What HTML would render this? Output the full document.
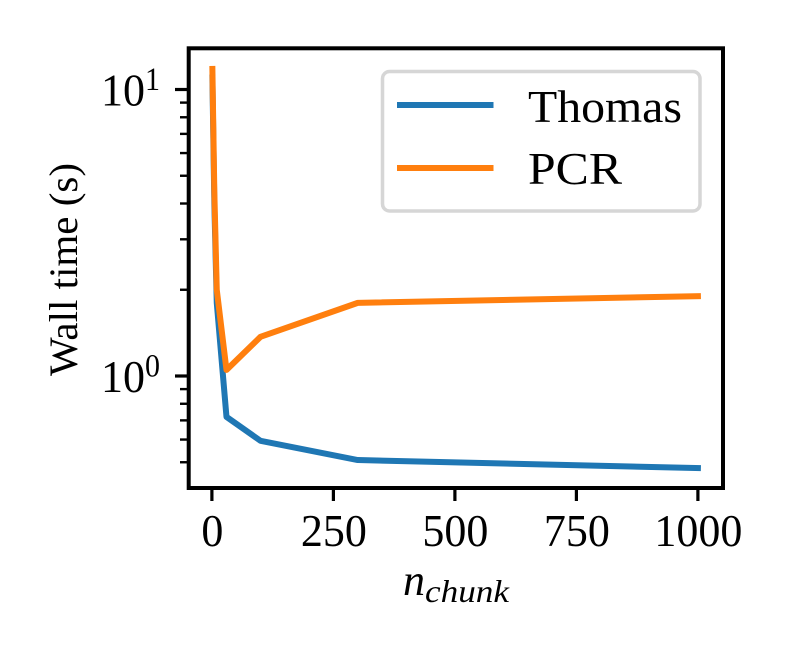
<!DOCTYPE html>
<html>
<head>
<meta charset="utf-8">
<title>Wall time chart</title>
<style>
html,body{margin:0;padding:0;background:#fff;}
svg{display:block;}
text{font-family:"Liberation Serif",serif;fill:#000;}
</style>
</head>
<body>
<svg id="chart" width="788" height="652" viewBox="0 0 788 652" xmlns="http://www.w3.org/2000/svg">
  <rect x="0" y="0" width="788" height="652" fill="#fff"/>
  <defs><clipPath id="plot-clip"><rect x="188.7" y="48.3" width="534.3" height="439.7"/></clipPath></defs>
  <g id="ticks"></g>
  <g id="tick-labels"></g>
  <g id="series" clip-path="url(#plot-clip)"></g>
  <rect x="188.7" y="48.3" width="534.3" height="439.7" fill="none" stroke="#000" stroke-width="4"/>
  <g>
    <rect x="382.5" y="71.5" width="317.5" height="139.5" rx="7" ry="7" fill="#fff" fill-opacity="0.8" stroke="#d6d6d6" stroke-width="3.5"/>
    <line x1="397" y1="105" x2="493.5" y2="105" stroke="#1f77b4" stroke-width="6"/>
    <text x="528" y="122" font-size="46" textLength="154" lengthAdjust="spacingAndGlyphs">Thomas</text>
    <line x1="397" y1="168" x2="493.5" y2="168" stroke="#ff7f0e" stroke-width="6"/>
    <text x="528" y="184" font-size="46" textLength="94" lengthAdjust="spacingAndGlyphs">PCR</text>
  </g>
  <g>
    <text x="403" y="595" font-size="44" font-style="italic" textLength="22" lengthAdjust="spacingAndGlyphs">n</text>
    <text x="425" y="602" font-size="32" font-style="italic" textLength="84" lengthAdjust="spacingAndGlyphs">chunk</text>
  </g>
  <text transform="translate(77,376) rotate(-90)" x="0" y="0" font-size="40" textLength="213" lengthAdjust="spacingAndGlyphs">Wall time (s)</text>
</svg>
<script>
const categories = [1, 5, 10, 30, 100, 300, 1000];
const thomasValues = [11, 4.0, 1.8, 0.72, 0.594, 0.509, 0.477];
const pcrValues = [11.8, 4.4, 2.0, 1.05, 1.37, 1.8, 1.9];
const xTickValues = [0, 250, 500, 750, 1000];
const xTickLabels = ['0', '250', '500', '750', '1000'];
const yMajorTicks = [10, 1];
const yMajorBases = ['10', '10'];
const yMajorExponents = ['1', '0'];
const yMinorTicks = [9, 8, 7, 6, 5, 4, 3, 2, 0.9, 0.8, 0.7, 0.6, 0.5];

const NS = 'http://www.w3.org/2000/svg';
function xScale(v) { return 211.9 + v * 0.486; }
function yScale(v) { return 376 - 286.5 * Math.log10(v); }

const ticksGroup = document.getElementById('ticks');
const labelsGroup = document.getElementById('tick-labels');
const seriesGroup = document.getElementById('series');

function makeLine(x1, y1, x2, y2, width) {
  const el = document.createElementNS(NS, 'line');
  el.setAttribute('x1', x1);
  el.setAttribute('y1', y1);
  el.setAttribute('x2', x2);
  el.setAttribute('y2', y2);
  el.setAttribute('stroke', '#000');
  el.setAttribute('stroke-width', width);
  ticksGroup.appendChild(el);
  return el;
}

function makeText(str, x, y, size, len, anchor) {
  const el = document.createElementNS(NS, 'text');
  el.textContent = str;
  el.setAttribute('x', x);
  el.setAttribute('y', y);
  el.setAttribute('font-size', size);
  el.setAttribute('text-anchor', anchor);
  el.setAttribute('textLength', len);
  el.setAttribute('lengthAdjust', 'spacingAndGlyphs');
  labelsGroup.appendChild(el);
  return el;
}

xTickValues.forEach(function (v, i) {
  const tick = makeLine(xScale(v), 488, xScale(v), 501, 3.2);
  
  
  const s = xTickLabels[i];
  const label = makeText(s, xScale(v) + 0.5, 546, 46, s.length * 22, 'middle');
  
  
});

yMajorTicks.forEach(function (v, i) {
  const y = yScale(v);
  const tick = makeLine(175, y, 188, y, 3.2);
  
  
  const base = makeText(yMajorBases[i], 101, y + 16, 46, 44, 'start');
  
  
  const exp = makeText(yMajorExponents[i], 145, y + 0.5, 33, 15, 'start');
  
  
});

yMinorTicks.forEach(function (v) {
  const y = yScale(v);
  const tick = makeLine(180, y, 188, y, 2.4);
  
  
});

function drawSeries(values, color) {
  const el = document.createElementNS(NS, 'polyline');
  el.setAttribute('points', values.map(function (v, i) {
    return xScale(categories[i]).toFixed(2) + ',' + yScale(v).toFixed(2);
  }).join(' '));
  el.setAttribute('fill', 'none');
  el.setAttribute('stroke', color);
  el.setAttribute('stroke-width', '6');
  el.setAttribute('stroke-linejoin', 'round');
  el.setAttribute('stroke-linecap', 'square');
  seriesGroup.appendChild(el);
  return el;
}

const thomasLine = drawSeries(thomasValues, '#1f77b4');


const pcrLine = drawSeries(pcrValues, '#ff7f0e');


</script>
</body>
</html>
